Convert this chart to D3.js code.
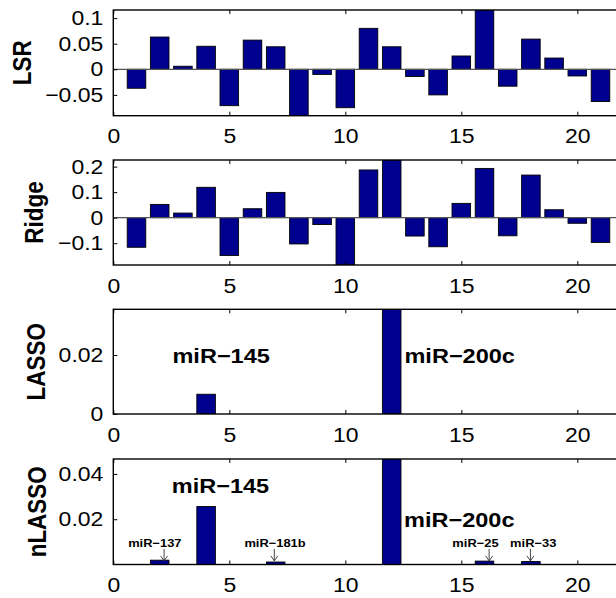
<!DOCTYPE html>
<html><head><meta charset="utf-8">
<script src="https://cdn.jsdelivr.net/npm/d3@7"></script>
<style>
body{margin:0;background:#fff}
svg{display:block}
text{font-family:"Liberation Sans",Arial,Helvetica,sans-serif;fill:#000}
</style>
</head><body>
<svg id="c" width="616" height="598"></svg>
<script>
// ---------- data ----------
const categories = d3.range(1, 22);
const lsrValues   = [-0.037, 0.063, 0.006, 0.045, -0.071, 0.057, 0.044, -0.0906, -0.010, -0.075, 0.080, 0.044, -0.014, -0.050, 0.026, 0.1158, -0.033, 0.059, 0.022, -0.013, -0.063];
const ridgeValues = [-0.116, 0.052, 0.018, 0.119, -0.148, 0.035, 0.099, -0.103, -0.027, -0.1855, 0.187, 0.226, -0.072, -0.114, 0.056, 0.193, -0.071, 0.167, 0.031, -0.022, -0.097];
const lassoValues = [0, 0, 0, 0.0067, 0, 0, 0, 0, 0, 0, 0, 0.0355, 0, 0, 0, 0, 0, 0, 0, 0, 0];
const nlassoValues= [0, 0.0019, 0, 0.0256, 0, 0, 0.0011, 0, 0, 0, 0, 0.0466, 0, 0, 0, 0.0015, 0, 0.0013, 0, 0, 0];

const xTickValues = [0, 5, 10, 15, 20];
const xTickLabels = ["0", "5", "10", "15", "20"];
const lsrTickValues = [-0.05, 0, 0.05, 0.1];
const lsrTickLabels = ["\u22120.05", "0", "0.05", "0.1"];
const ridgeTickValues = [-0.1, 0, 0.1, 0.2];
const ridgeTickLabels = ["\u22120.1", "0", "0.1", "0.2"];
const lassoTickValues = [0, 0.02];
const lassoTickLabels = ["0", "0.02"];
const nlassoTickValues = [0.02, 0.04];
const nlassoTickLabels = ["0.02", "0.04"];

const panelNames = ["LSR", "Ridge", "LASSO", "nLASSO"];

// annotations (data coordinates)
const lassoNotes  = [{text: "miR\u2212145", x: 2.55, y: 0.0172}, {text: "miR\u2212200c", x: 12.55, y: 0.0172}];
const nlassoNotes = [{text: "miR\u2212145", x: 2.52, y: 0.0315}, {text: "miR\u2212200c", x: 12.53, y: 0.0164}];
const nlassoSmallNotes = [
  {text: "miR\u2212137",  tx: 1.79,  ax: 2.19},
  {text: "miR\u2212181b", tx: 6.97,  ax: 6.94},
  {text: "miR\u221225",   tx: 15.61, ax: 16.2},
  {text: "miR\u221233",   tx: 18.1,  ax: 17.98}
];
const smallNoteTextY = 0.0079, smallArrowTop = 0.0069, smallArrowBottom = 0.0016;

// ---------- layout ----------
const STRETCH = 1.12;
const xLeft = 113.3, unit = 23.2;
const xDomain = [0, 22];
const x = d3.scaleLinear().domain(xDomain).range([xLeft, xLeft + unit * 22]);

const layout = [
  {top: 10,    bottom: 115.7, labelX: 30.5, tight: true},
  {top: 160,   bottom: 265,   labelX: 43,   tight: true},
  {top: 309.3, bottom: 414,   labelX: 44.8, tight: false},
  {top: 459,   bottom: 564.5, labelX: 45.5, tight: false}
];
const panelValues = [lsrValues, ridgeValues, lassoValues, nlassoValues];
const panelTickValues = [lsrTickValues, ridgeTickValues, lassoTickValues, nlassoTickValues];
const panelTickLabels = [lsrTickLabels, ridgeTickLabels, lassoTickLabels, nlassoTickLabels];

const svg = d3.select("#c");
const barFill = "#00008F";
const tickFont = 20.5;

panelValues.forEach((vals, i) => {
  const L = layout[i];
  const ext = d3.extent(vals);
  const dom = L.tight ? ext : [0, ext[1]];
  const y = d3.scaleLinear().domain(dom).range([L.bottom, L.top]);
  const g = svg.append("g");
  const clipId = "clip" + i;
  g.append("clipPath").attr("id", clipId).append("rect")
    .attr("x", x(xDomain[0])).attr("y", L.top)
    .attr("width", x(xDomain[1]) - x(xDomain[0])).attr("height", L.bottom - L.top);

  const plot = g.append("g").attr("clip-path", `url(#${clipId})`);

  // bars
  plot.selectAll("rect.bar").data(categories.map((c, k) => ({c, v: vals[k]})))
    .join("rect").attr("class", "bar")
    .attr("x", d => x(d.c - 0.4))
    .attr("width", d => x(d.c + 0.4) - x(d.c - 0.4))
    .attr("y", d => y(Math.max(0, d.v)))
    .attr("height", d => Math.abs(y(d.v) - y(0)))
    .attr("fill", barFill).attr("stroke", "#000").attr("stroke-width", 0.9);

  // baseline
  if (L.tight) {
    plot.append("line").attr("x1", x(xDomain[0])).attr("x2", x(xDomain[1]))
      .attr("y1", y(0)).attr("y2", y(0)).attr("stroke", "#555").attr("stroke-width", 1.2);
  }

  // axes
  const xAxis = d3.axisBottom(x).tickValues(xTickValues)
    .tickFormat((d, k) => xTickLabels[k]).tickSizeInner(-4).tickSizeOuter(0).tickPadding(13);
  const gx = g.append("g").attr("transform", `translate(0,${L.bottom})`).call(xAxis);
  const xAxisTop = d3.axisTop(x).tickValues(xTickValues).tickFormat("").tickSizeInner(-4).tickSizeOuter(0);
  const gxt = g.append("g").attr("transform", `translate(0,${L.top})`).call(xAxisTop);

  const yAxis = d3.axisLeft(y).tickValues(panelTickValues[i])
    .tickFormat((d, k) => panelTickLabels[i][k]).tickSizeInner(-4).tickSizeOuter(0).tickPadding(10);
  const gy = g.append("g").attr("transform", `translate(${xLeft},0)`).call(yAxis);

  [gx, gxt, gy].forEach(a => {
    a.select(".domain").remove();
    a.selectAll(".tick line").attr("stroke", "#000").attr("stroke-width", 1);
    a.selectAll(".tick text").attr("font-size", tickFont).attr("font-family", '"Liberation Sans",Arial,sans-serif');
  });

  // frame
  g.append("rect").attr("x", x(xDomain[0])).attr("y", L.top)
    .attr("width", x(xDomain[1]) - x(xDomain[0])).attr("height", L.bottom - L.top)
    .attr("fill", "none").attr("stroke", "#000").attr("stroke-width", 1.4);

  // y label
  g.append("text")
    .attr("transform", `translate(${L.labelX},${(L.top + L.bottom) / 2}) rotate(-90) scale(1,${STRETCH})`)
    .attr("text-anchor", "middle")
    .attr("font-size", 22.5).attr("font-weight", "bold")
    .attr("class", "nostretch")
    .text(panelNames[i]);

  // annotations
  const bigNotes = i === 2 ? lassoNotes : i === 3 ? nlassoNotes : [];
  g.selectAll("text.big").data(bigNotes).join("text").attr("class", "big")
    .attr("x", d => x(d.x)).attr("y", d => y(d.y))
    .attr("font-size", 21).attr("font-weight", "bold")
    .text(d => d.text);

  if (i === 3) {
    g.selectAll("text.small").data(nlassoSmallNotes).join("text").attr("class", "small")
      .attr("x", d => x(d.tx)).attr("y", y(smallNoteTextY))
      .attr("text-anchor", "middle")
      .attr("font-size", 11.5).attr("font-weight", "bold")
      .text(d => d.text);
    const arr = g.selectAll("g.arrow").data(nlassoSmallNotes).join("g").attr("class", "arrow");
    arr.append("line")
      .attr("x1", d => x(d.ax)).attr("x2", d => x(d.ax))
      .attr("y1", y(smallArrowTop)).attr("y2", y(smallArrowBottom))
      .attr("stroke", "#333").attr("stroke-width", 0.9);
    arr.append("path")
      .attr("d", d => {
        const ax = x(d.ax), by = y(smallArrowBottom);
        return `M${ax - 3.5},${by - 5}L${ax},${by}L${ax + 3.5},${by - 5}`;
      })
      .attr("fill", "none").attr("stroke", "#333").attr("stroke-width", 0.9);
  }
});

// horizontal stretch of the original glyphs
svg.selectAll("text").each(function () {
  if (this.getAttribute("class") === "nostretch") return;
  const w = this.getComputedTextLength();
  if (w > 0) {
    d3.select(this).attr("textLength", w * STRETCH).attr("lengthAdjust", "spacingAndGlyphs");
  }
});
</script>
</body></html>
